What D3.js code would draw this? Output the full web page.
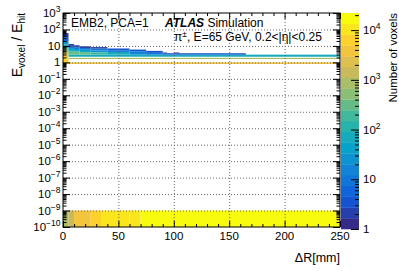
<!DOCTYPE html>
<html>
<head>
<meta charset="utf-8">
<script src="https://cdn.jsdelivr.net/npm/d3@7"></script>
<style>
body { margin: 0; background: #fff; }
text { font-family: "Liberation Sans", Arial, Helvetica, sans-serif; fill: #000; }
</style>
</head>
<body>
<div id="chart"></div>
<script>
"use strict";

// bottom row of the histogram (E ratio 1e-10 .. 1e-9), dR bin edges and voxel counts
var stripEdges = [0, 5, 10, 25, 35, 60, 70, 250];
var stripCounts = [800, 1500, 3500, 6000, 10000, 9000, 17000];

// thin rows running across the whole dR range: [ratio low, ratio high, count]
var wideRows = [
	[0.8, 1.0, 3500],
	[1.6, 1.9, 700],
	[2.2, 2.95, 60]
];
var wideFrom = 5, wideTo = 250;

// cells near small dR: [dR low, dR high, ratio low, ratio high, count]
var coreCells = [
	[0, 5, 35, 60, 2], [0, 5, 20, 35, 6], [0, 5, 12, 20, 25], [0, 5, 7, 12, 120],
	[0, 5, 4, 7, 600], [0, 5, 2.7, 4, 2000], [0, 5, 1.75, 2.7, 4000], [0, 5, 0.8, 1.75, 6000],
	[5, 10, 10, 13, 2], [5, 10, 7.5, 10, 8], [5, 10, 5, 7.5, 40], [5, 10, 2.95, 5, 300],
	[10, 15, 8.5, 11, 2], [10, 15, 6.5, 8.5, 8], [10, 15, 4.5, 6.5, 40], [10, 15, 2.95, 4.5, 300],
	[15, 25, 7.5, 9.5, 2], [15, 25, 5.8, 7.5, 8], [15, 25, 4.2, 5.8, 40], [15, 25, 2.95, 4.2, 250],
	[25, 40, 6.8, 8.5, 2], [25, 40, 5.2, 6.8, 8], [25, 40, 4, 5.2, 30], [25, 40, 2.95, 4, 150],
	[40, 60, 5.5, 7, 3], [40, 60, 4.3, 5.5, 10], [40, 60, 2.95, 4.3, 60],
	[60, 75, 4.8, 6, 3], [60, 75, 2.95, 4.8, 15],
	[75, 90, 3.8, 5, 3], [75, 90, 2.95, 3.8, 10],
	[90, 165, 2.95, 3.6, 4],
	[90, 94, 3.6, 4.0, 2], [100, 105, 3.6, 4.0, 2]
];

var zMax = 22100;
var nContours = 20;

// ROOT kBird palette
var birdStops = [0, 0.125, 0.25, 0.375, 0.5, 0.625, 0.75, 0.875, 1];
var birdR = [0.2082, 0.0592, 0.0780, 0.0232, 0.1802, 0.5301, 0.8186, 0.9956, 0.9764];
var birdG = [0.1664, 0.3599, 0.5041, 0.6419, 0.7178, 0.7492, 0.7328, 0.7862, 0.9832];
var birdB = [0.5293, 0.8684, 0.8385, 0.7914, 0.6425, 0.4662, 0.3499, 0.1968, 0.0539];

var width = 399;
var height = 271;
var frame = {left: 63, right: 340, top: 13, bottom: 227};

var svg = d3.select("#chart").append("svg")
	.attr("width", width)
	.attr("height", height);

var x = d3.scaleLinear().domain([0, 250]).range([frame.left, frame.right]);
var y = d3.scaleLog().domain([1e-10, 1e3]).range([frame.bottom, frame.top]);
var z = d3.scaleLog().domain([1, zMax]).range([229, 13]);

var bird = d3.scaleLinear()
	.domain(birdStops)
	.range(birdStops.map(function(s, i) { return d3.rgb(birdR[i] * 255, birdG[i] * 255, birdB[i] * 255); }));

function band(n) {
	var b = Math.floor(Math.log10(n) / Math.log10(zMax) * nContours);
	return Math.max(0, Math.min(nContours - 1, b));
}
function colorOf(n) { return bird(band(n) / (nContours - 1)); }

// collect all cells
var cells = [];
stripCounts.forEach(function(n, i) {
	cells.push({x0: stripEdges[i], x1: stripEdges[i + 1], lo: 1e-10, hi: 1e-9, n: n});
});
wideRows.forEach(function(r) {
	cells.push({x0: wideFrom, x1: wideTo, lo: r[0], hi: r[1], n: r[2]});
});
coreCells.forEach(function(c) {
	cells.push({x0: c[0], x1: c[1], lo: c[2], hi: c[3], n: c[4]});
});

svg.append("g").selectAll("rect")
	.data(cells)
	.enter()
	.append("rect")
	.attr("x", function(d) { return x(d.x0); })
	.attr("width", function(d) { return x(d.x1) - x(d.x0); })
	.attr("y", function(d) { return y(d.hi); })
	.attr("height", function(d) { return y(d.lo) - y(d.hi); })
	.attr("fill", function(d) { return colorOf(d.n); });

// grid
var xGrid = [50, 100, 150, 200];
var yGrid = d3.range(-9, 3).map(function(e) { return Math.pow(10, e); });

svg.append("g")
	.attr("class", "grid")
	.attr("transform", "translate(0," + frame.bottom + ")")
	.call(d3.axisBottom(x).tickValues(xGrid).tickSize(-(frame.bottom - frame.top)).tickFormat(""));
svg.append("g")
	.attr("class", "grid")
	.attr("transform", "translate(" + frame.left + ",0)")
	.call(d3.axisLeft(y).tickValues(yGrid).tickSize(-(frame.right - frame.left)).tickFormat(""));
svg.selectAll(".grid .domain").remove();
svg.selectAll(".grid line")
	.attr("stroke", "#666")
	.attr("stroke-dasharray", "1,2");

// ticks
var yMajor = d3.range(-10, 4).map(function(e) { return Math.pow(10, e); });
var yMinor = [];
for (var e = -10; e < 3; e++)
	for (var k = 2; k < 10; k++) yMinor.push(k * Math.pow(10, e));
var xMajor = d3.range(0, 251, 50);
var xMinor = d3.range(10, 250, 10).filter(function(v) { return v % 50 != 0; });

function ticks(axis, tx, ty) {
	var g = svg.append("g")
		.attr("class", "ticks")
		.attr("transform", "translate(" + tx + "," + ty + ")")
		.call(axis.tickSizeOuter(0).tickFormat(""));
	g.select(".domain").remove();
	g.selectAll("line").attr("stroke", "#000");
}
ticks(d3.axisRight(y).tickValues(yMajor).tickSize(7), frame.left, 0);
ticks(d3.axisRight(y).tickValues(yMinor).tickSize(3.5), frame.left, 0);
ticks(d3.axisLeft(y).tickValues(yMajor).tickSize(7), frame.right, 0);
ticks(d3.axisLeft(y).tickValues(yMinor).tickSize(3.5), frame.right, 0);
ticks(d3.axisTop(x).tickValues(xMajor).tickSize(6), 0, frame.bottom);
ticks(d3.axisTop(x).tickValues(xMinor).tickSize(3), 0, frame.bottom);
ticks(d3.axisBottom(x).tickValues(xMajor).tickSize(6), 0, frame.top);
ticks(d3.axisBottom(x).tickValues(xMinor).tickSize(3), 0, frame.top);

svg.append("rect")
	.attr("x", frame.left)
	.attr("y", frame.top)
	.attr("width", frame.right - frame.left)
	.attr("height", frame.bottom - frame.top)
	.attr("fill", "none")
	.attr("stroke", "#000");

// power-of-ten labels
function powLabel(sel, e) {
	if (e == 0) { sel.text("1"); return; }
	if (e == 1) { sel.text("10"); return; }
	sel.append("tspan").text("10");
	sel.append("tspan")
		.attr("dy", -5)
		.attr("font-size", "8.5px")
		.text(e < 0 ? "\u2212" + (-e) : e);
}

d3.range(-10, 4).forEach(function(e) {
	var t = svg.append("text")
		.attr("x", 60.5)
		.attr("y", y(Math.pow(10, e)) + 4)
		.attr("text-anchor", "end")
		.attr("font-size", "11.5px");
	powLabel(t, e);
});

xMajor.forEach(function(v) {
	svg.append("text")
		.attr("x", x(v))
		.attr("y", 240)
		.attr("text-anchor", "middle")
		.attr("font-size", "11.5px")
		.text(v);
});

svg.append("text")
	.attr("x", frame.right)
	.attr("y", 262)
	.attr("text-anchor", "end")
	.attr("font-size", "12.5px")
	.text("\u0394R[mm]");

var yTitle = svg.append("text")
	.attr("transform", "translate(22," + frame.top + ") rotate(-90)")
	.attr("text-anchor", "end")
	.attr("font-size", "14px");
yTitle.append("tspan").text("E");
yTitle.append("tspan").attr("dy", 3).attr("font-size", "10px").text("voxel");
yTitle.append("tspan").attr("dy", -3).text(" / E");
yTitle.append("tspan").attr("dy", 3).attr("font-size", "10px").text("hit");

// colour bar
var cbLeft = 341, cbRight = 359;
var logMax = Math.log10(zMax);
svg.append("g").selectAll("rect")
	.data(d3.range(nContours))
	.enter()
	.append("rect")
	.attr("x", cbLeft)
	.attr("width", cbRight - cbLeft)
	.attr("y", function(i) { return z(Math.pow(10, (i + 1) * logMax / nContours)); })
	.attr("height", function(i) {
		return z(Math.pow(10, i * logMax / nContours)) - z(Math.pow(10, (i + 1) * logMax / nContours)) + 0.3;
	})
	.attr("fill", function(i) { return bird(i / (nContours - 1)); });

var zMajor = [1, 10, 100, 1000, 10000];
var zMinor = [];
for (var ez = 0; ez < 5; ez++)
	for (var kz = 2; kz < 10; kz++)
		if (kz * Math.pow(10, ez) < zMax) zMinor.push(kz * Math.pow(10, ez));
ticks(d3.axisLeft(z).tickValues(zMajor).tickSize(8), cbRight, 0);
ticks(d3.axisLeft(z).tickValues(zMinor).tickSize(4), cbRight, 0);

d3.range(0, 5).forEach(function(e) {
	var t = svg.append("text")
		.attr("x", 363)
		.attr("y", z(Math.pow(10, e)) + 4)
		.attr("text-anchor", "start")
		.attr("font-size", "11.5px");
	powLabel(t, e);
});

svg.append("text")
	.attr("transform", "translate(397," + frame.top + ") rotate(-90)")
	.attr("text-anchor", "end")
	.attr("font-size", "11.5px")
	.text("Number of voxels");

// labels inside the frame
svg.append("text")
	.attr("x", 71)
	.attr("y", 26.5)
	.attr("font-size", "12px")
	.text("EMB2, PCA=1");
var atlas = svg.append("text")
	.attr("x", 165)
	.attr("y", 26.5)
	.attr("font-size", "12px");
atlas.append("tspan").attr("font-weight", "bold").attr("font-style", "italic").text("ATLAS");
atlas.append("tspan").text(" Simulation");

var info = svg.append("text")
	.attr("x", 174)
	.attr("y", 41)
	.attr("font-size", "12px");
info.append("tspan").text("\u03c0");
info.append("tspan").attr("dy", -4).attr("font-size", "8.5px").text("\u00b1");
info.append("tspan").attr("dy", 4).text(", E=65 GeV, 0.2<|\u03b7|<0.25");
</script>
</body>
</html>
